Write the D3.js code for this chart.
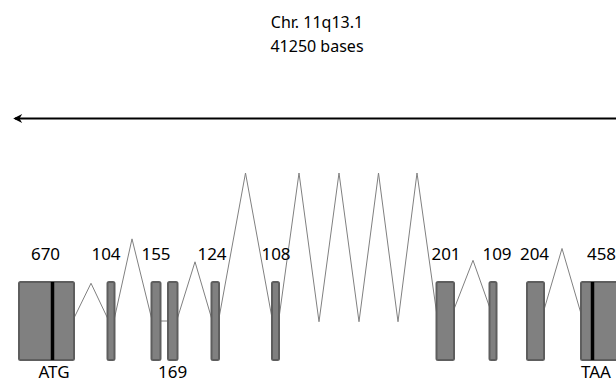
<!DOCTYPE html>
<html>
<head>
<meta charset="utf-8">
<script src="https://cdn.jsdelivr.net/npm/d3@7/dist/d3.min.js"></script>
<style>
html,body{margin:0;padding:0;background:#fff;}
svg{display:block;}
text{font-family:"Noto Sans",sans-serif;fill:#000;}
</style>
</head>
<body>
<svg id="chart" width="616" height="383"></svg>
<script>
// ---- data (schematic positions) ----
const titleLines = ["Chr. 11q13.1", "41250 bases"];
// exon [start, end] in schematic units
const exonStarts = [19, 107.5, 151.5, 168, 211.5, 272, 436.5, 489.5, 527, 581];
const exonEnds   = [74, 114.5, 160.5, 177.5, 219, 279, 454, 496.5, 544, 640];
const exonLengths = ["670", "104", "155", "169", "124", "108", "201", "109", "204", "458"];
const labelCenters = [45.5, 106, 156, 172.7, 212, 276, 446, 497, 534.5, 601.5];
const labelBelow = [false, false, false, true, false, false, false, false, false, false];
// codon markers
const codonNames = ["ATG", "TAA"];
const codonPos = [52.5, 592.5];
const codonLabelPos = [54, 596];
// introns: lists of [position, height] (height 0 = exon middle, 100 = tallest peak)
const introns = [
  [[74, 2], [91, 25.5], [107.5, 2]],
  [[114.5, 2], [132, 55.5], [151.5, 2]],
  [[160.5, 0], [168, 0]],
  [[177.5, 2], [195, 40], [211.5, 2]],
  [[219, 2], [245.5, 100], [272, 2]],
  [[279, 2], [299, 100], [319, -0.5], [339, 100], [359, -0.5], [378.5, 100], [398, -0.5], [417, 100], [436.5, 6]],
  [[454, 8], [473, 41], [489.5, 9.5]],
  [[544, 7.5], [562, 49], [581, 5]]
];
const arrowExtent = [13, 616];

// ---- scales ----
const W = 616, H = 383;
const x = d3.scaleLinear().domain([0, 616]).range([0, W]);
const h = d3.scaleLinear().domain([0, 100]).range([321, 173]);
const exonTop = 282, exonBottom = 360;

const svg = d3.select("#chart");

// title
svg.append("g").selectAll("text").data(titleLines).join("text")
  .attr("x", 317).attr("y", (d, i) => 28 + i * 24)
  .attr("text-anchor", "middle").style("font-size", "16px").text(d => d);

// arrow
const defs = svg.append("defs");
defs.append("marker").attr("id", "ah").attr("viewBox", "0 0 10 10")
  .attr("refX", 8).attr("refY", 5).attr("markerWidth", 5).attr("markerHeight", 4.5)
  .attr("orient", "auto").attr("markerUnits", "strokeWidth")
  .append("path").attr("d", "M10,5 L0,0 L3,5 L0,10 Z").attr("fill", "#000");
svg.append("line")
  .attr("x1", x(arrowExtent[1])).attr("x2", x(arrowExtent[0]) + 2)
  .attr("y1", 118.5).attr("y2", 118.5)
  .attr("stroke", "#000").attr("stroke-width", 2)
  .attr("marker-end", "url(#ah)");

// introns
const line = d3.line().x(d => x(d[0])).y(d => h(d[1]));
svg.append("g").selectAll("path").data(introns).join("path")
  .attr("d", line).attr("fill", "none").attr("stroke", "#808080").attr("stroke-width", 1);

// exons
const exons = exonStarts.map((s, i) => ({ s, e: exonEnds[i] }));
svg.append("g").selectAll("rect").data(exons).join("rect")
  .attr("x", d => x(d.s)).attr("width", d => x(d.e) - x(d.s))
  .attr("y", exonTop).attr("height", exonBottom - exonTop)
  .attr("rx", 1.5)
  .attr("fill", "#808080").attr("stroke", "#5e5e5e").attr("stroke-width", 2);

// codon bars
svg.append("g").selectAll("rect").data(codonPos).join("rect")
  .attr("x", d => x(d) - 1.75).attr("width", 3.5)
  .attr("y", exonTop).attr("height", exonBottom - exonTop)
  .attr("fill", "#000");

// length labels
svg.append("g").selectAll("text").data(exonLengths).join("text")
  .attr("x", (d, i) => x(labelCenters[i]))
  .attr("y", (d, i) => labelBelow[i] ? 378 : 260)
  .attr("text-anchor", "middle").style("font-size", "17px").text(d => d);

// codon labels
svg.append("g").selectAll("text").data(codonNames).join("text")
  .attr("x", (d, i) => x(codonLabelPos[i])).attr("y", 377.5)
  .attr("text-anchor", "middle").style("font-size", "17px").text(d => d);
</script>
</body>
</html>
